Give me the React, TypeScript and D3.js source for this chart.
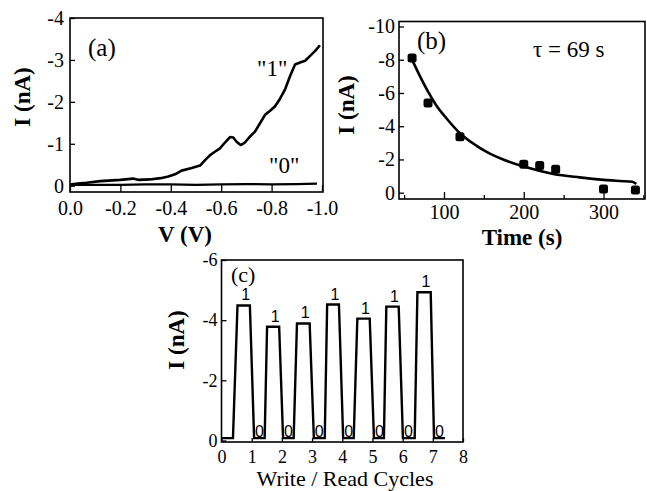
import React, { useEffect, useRef } from 'react';
import * as d3 from 'd3';

// (a) I-V sweeps, state "1" and state "0"
const voltsOne = [0, -0.03, -0.066, -0.12, -0.2, -0.25, -0.27, -0.316, -0.36, -0.39, -0.42, -0.443, -0.483, -0.516, -0.536, -0.556, -0.575, -0.595, -0.615, -0.635, -0.648, -0.661, -0.677, -0.694, -0.714, -0.734, -0.754, -0.774, -0.794, -0.813, -0.833, -0.853, -0.873, -0.893, -0.913, -0.933, -0.952, -0.972, -0.992];
const currentOne = [-0.03, -0.05, -0.07, -0.11, -0.14, -0.17, -0.14, -0.15, -0.18, -0.22, -0.28, -0.36, -0.42, -0.48, -0.61, -0.73, -0.81, -0.89, -1.03, -1.16, -1.15, -1.05, -0.97, -1.03, -1.17, -1.29, -1.49, -1.69, -1.79, -1.89, -2.07, -2.29, -2.61, -2.89, -2.94, -2.98, -3.09, -3.21, -3.35];
const voltsZero = [0, -0.1, -0.2, -0.3, -0.4, -0.5, -0.6, -0.7, -0.8, -0.9, -0.98];
const currentZero = [-0.02, -0.02, -0.02, -0.03, -0.03, -0.02, -0.03, -0.04, -0.03, -0.04, -0.05];
const vTicks = [0, -0.2, -0.4, -0.6, -0.8, -1.0];
const iTicksA = [0, -1, -2, -3, -4];

// (b) retention
const timePts = [60, 80, 120, 200, 220, 240, 300, 340];
const currentPts = [-8.1, -5.4, -3.37, -1.71, -1.63, -1.41, -0.22, -0.16];
const fitTime = [60, 70, 80, 90, 103, 120, 140, 153, 175, 200, 237, 270, 300, 320, 336, 341];
const fitCurrent = [-8.0, -7.0, -6.08, -5.28, -4.48, -3.58, -2.85, -2.47, -1.98, -1.57, -1.13, -0.92, -0.77, -0.7, -0.66, -0.52];
const timeTicks = [100, 200, 300];
const timeMinor = [50, 150, 250, 350];
const iTicksB = [0, -2, -4, -6, -8, -10];

// (c) write / read cycles
const cycleX = [0, 0.38, 0.53, 0.94, 1.08, 1.43, 1.51, 1.91, 2.04, 2.39, 2.5, 2.92, 3.06, 3.42, 3.5, 3.89, 4.03, 4.38, 4.5, 4.91, 5.05, 5.38, 5.46, 5.87, 6.01, 6.4, 6.49, 6.93, 7.04, 7.4];
const cycleI = [-0.08, -0.08, -4.49, -4.49, -0.08, -0.08, -3.78, -3.78, -0.08, -0.08, -3.89, -3.89, -0.08, -0.08, -4.52, -4.52, -0.08, -0.08, -4.05, -4.05, -0.08, -0.08, -4.45, -4.45, -0.08, -0.08, -4.93, -4.93, -0.08, -0.08];
const cycleTicks = [0, 1, 2, 3, 4, 5, 6, 7, 8];
const iTicksC = [0, -2, -4, -6];

const serif = 'Liberation Serif, Times New Roman, serif';
const sans = 'Liberation Sans, Arial, sans-serif';

export default function App() {
  const ref = useRef<SVGSVGElement>(null);

  useEffect(() => {
    draw();
    // eslint-disable-next-line react-hooks/exhaustive-deps
  }, []);

  function styleAxis(g: any, size: number) {
    g.select('.domain').remove();
    g.selectAll('line').attr('stroke', '#000').attr('stroke-width', 1.3);
    g.selectAll('text').attr('font-family', serif).attr('font-size', size).attr('fill', '#000');
  }

  function frame(svg: any, x: any, y: any) {
    const [x0, x1] = x.range();
    const [y0, y1] = y.range();
    svg.append('rect')
      .attr('x', Math.min(x0, x1)).attr('y', Math.min(y0, y1))
      .attr('width', Math.abs(x1 - x0)).attr('height', Math.abs(y1 - y0))
      .attr('fill', 'none').attr('stroke', '#000').attr('stroke-width', 1.6);
  }

  function title(svg: any, text: string, x: number, y: number, size: number, bold: boolean, rotate = false) {
    const t = svg.append('text')
      .text(text)
      .attr('font-family', serif)
      .attr('font-size', size)
      .attr('font-weight', bold ? 'bold' : 'normal')
      .attr('text-anchor', 'middle');
    if (rotate) t.attr('transform', `translate(${x},${y}) rotate(-90)`).attr('dy', '0.35em');
    else t.attr('x', x).attr('y', y);
  }

  function draw() {
    const svg = d3.select(ref.current);
    svg.selectAll('*').remove();

    // ---------- (a)
    const xA = d3.scaleLinear().domain([0, -1.004]).range([70, 323]);
    const yA = d3.scaleLinear().domain([0.15, -4]).range([192, 18]);
    svg.append('g').attr('transform', `translate(0,${yA.range()[0]})`)
      .call(d3.axisBottom(xA).tickValues(vTicks).tickSize(-7).tickPadding(9).tickFormat((d: any) => (+d).toFixed(1)))
      .call((g: any) => styleAxis(g, 20));
    svg.append('g').attr('transform', `translate(${xA.range()[0]},0)`)
      .call(d3.axisLeft(yA).tickValues(iTicksA).tickSize(-5).tickPadding(6).tickFormat((d: any) => String(d)))
      .call((g: any) => styleAxis(g, 20));
    frame(svg, xA, yA);
    svg.append('path')
      .attr('d', d3.line<number>().x((d, i) => xA(voltsOne[i])).y((d) => yA(d))(currentOne))
      .attr('fill', 'none').attr('stroke', '#000').attr('stroke-width', 2.6).attr('stroke-linejoin', 'round');
    svg.append('path')
      .attr('d', d3.line<number>().x((d, i) => xA(voltsZero[i])).y((d) => yA(d))(currentZero))
      .attr('fill', 'none').attr('stroke', '#000').attr('stroke-width', 2.2);
    svg.append('text').text('(a)').attr('x', 88).attr('y', 56).attr('font-family', serif).attr('font-size', 25);
    svg.append('text').text('"1"').attr('x', 257).attr('y', 76).attr('font-family', serif).attr('font-size', 23);
    svg.append('text').text('"0"').attr('x', 269).attr('y', 173).attr('font-family', serif).attr('font-size', 23);
    title(svg, 'I (nA)', 22, 97, 23, true, true);
    title(svg, 'V (V)', 185, 242, 23, true);

    // ---------- (b)
    const xB = d3.scaleLinear().domain([43.6, 352]).range([399, 645]);
    const yB = d3.scaleLinear().domain([0.38, -10.3]).range([199, 21.5]);
    svg.append('g').attr('transform', `translate(0,${yB.range()[0]})`)
      .call(d3.axisBottom(xB).tickValues(timeTicks).tickSize(-7).tickPadding(6).tickFormat((d: any) => String(d)))
      .call((g: any) => styleAxis(g, 20));
    svg.append('g').attr('transform', `translate(0,${yB.range()[0]})`)
      .call(d3.axisBottom(xB).tickValues(timeMinor).tickSize(-4).tickFormat(() => ''))
      .call((g: any) => styleAxis(g, 20));
    svg.append('g').attr('transform', `translate(${xB.range()[0]},0)`)
      .call(d3.axisLeft(yB).tickValues(iTicksB).tickSize(-5).tickPadding(4).tickFormat((d: any) => String(d)))
      .call((g: any) => styleAxis(g, 20));
    frame(svg, xB, yB);
    svg.append('path')
      .attr('d', d3.line<number>().x((d, i) => xB(fitTime[i])).y((d) => yB(d)).curve(d3.curveMonotoneX)(fitCurrent))
      .attr('fill', 'none').attr('stroke', '#000').attr('stroke-width', 2.6);
    svg.selectAll('.pt')
      .data(currentPts)
      .enter()
      .append('rect')
      .attr('x', (d, i) => xB(timePts[i]) - 4.5)
      .attr('y', (d) => yB(d) - 4.5)
      .attr('width', 9).attr('height', 9).attr('rx', 2.5)
      .attr('fill', '#000');
    svg.append('text').text('(b)').attr('x', 417).attr('y', 49).attr('font-family', serif).attr('font-size', 25);
    svg.append('text').text('τ = 69 s').attr('x', 533).attr('y', 57).attr('font-family', serif).attr('font-size', 23);
    title(svg, 'I (nA)', 346, 105, 23, true, true);
    title(svg, 'Time (s)', 522, 245, 23, true);

    // ---------- (c)
    const xC = d3.scaleLinear().domain([0, 8]).range([221.5, 463]);
    const yC = d3.scaleLinear().domain([0.05, -6]).range([442, 260]);
    svg.append('g').attr('transform', `translate(0,${yC.range()[0]})`)
      .call(d3.axisBottom(xC).tickValues(cycleTicks).tickSize(-4).tickPadding(8).tickFormat((d: any) => String(d)))
      .call((g: any) => styleAxis(g, 18));
    svg.append('g').attr('transform', `translate(${xC.range()[0]},0)`)
      .call(d3.axisLeft(yC).tickValues(iTicksC).tickSize(-5).tickPadding(4).tickFormat((d: any) => String(d)))
      .call((g: any) => styleAxis(g, 18));
    frame(svg, xC, yC);
    svg.append('path')
      .attr('d', d3.line<number>().x((d, i) => xC(cycleX[i])).y((d) => yC(d))(cycleI))
      .attr('fill', 'none').attr('stroke', '#000').attr('stroke-width', 2.4).attr('stroke-linejoin', 'miter');
    const peaks = d3.range(0, cycleX.length - 2, 4);
    svg.selectAll('.one')
      .data(peaks)
      .enter()
      .append('text')
      .text('1')
      .attr('x', (k) => (xC(cycleX[k + 2]) + xC(cycleX[k + 3])) / 2 + 2)
      .attr('y', (k) => yC(cycleI[k + 2]) - 5)
      .attr('text-anchor', 'middle')
      .attr('font-family', sans).attr('font-size', 16);
    svg.selectAll('.zero')
      .data(peaks)
      .enter()
      .append('text')
      .text('0')
      .attr('x', (k) => xC(cycleX[k + 4]) + 1)
      .attr('y', yC(0) - 3)
      .attr('font-family', sans).attr('font-size', 16);
    svg.append('text').text('(c)').attr('x', 231).attr('y', 282).attr('font-family', serif).attr('font-size', 22);
    title(svg, 'I (nA)', 176, 340, 23, true, true);
    title(svg, 'Write / Read Cycles', 345, 486, 22, false);
  }

  return (
    <svg
      ref={ref}
      width={647}
      height={491}
      style={{ position: 'absolute', left: 0, top: 0, background: '#fff' }}
    />
  );
}
